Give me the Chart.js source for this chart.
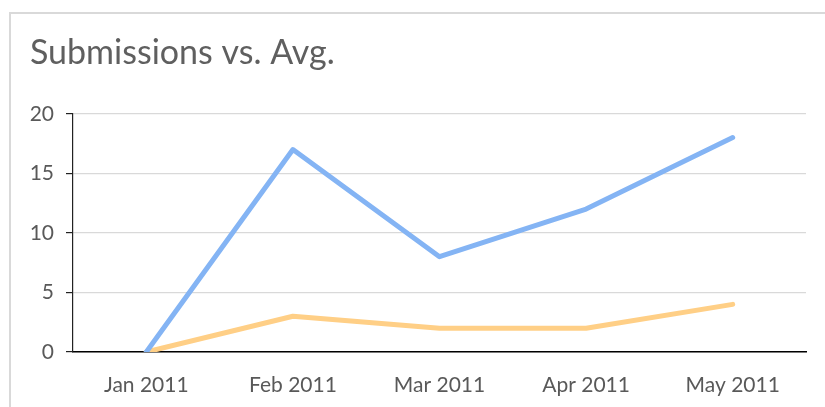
<!DOCTYPE html>
<html>
<head>
<meta charset="utf-8">
<script src="https://cdn.jsdelivr.net/npm/chart.js@4"></script>
<style>
  html, body { margin: 0; padding: 0; background: #fff; }
  body { width: 825px; height: 407px; position: relative; overflow: hidden; }
  #frame { position: absolute; left: 9px; top: 12px; width: 900px; height: 500px; border: 2px solid #d9d9d9; box-sizing: border-box; }
  #wrap { position: absolute; left: 0; top: 0; width: 825px; height: 407px; }
</style>
</head>
<body>
<div id="frame"></div>
<div id="wrap"><canvas id="c" width="825" height="407"></canvas></div>
<script>
const categories = ['Jan 2011', 'Feb 2011', 'Mar 2011', 'Apr 2011', 'May 2011'];
const submissions = [0, 17, 8, 12, 18];
const average = [0, 3, 2, 2, 4];
const yTicks = [0, 5, 10, 15, 20];
const titleText = 'Submissions vs. Avg.';

const FONT = 'Lato, "Open Sans", sans-serif';
const TXT = '#595959';

new Chart(document.getElementById('c'), {
  type: 'line',
  data: {
    labels: categories,
    datasets: [
      { label: 'Submissions', data: submissions, borderColor: '#84b4f4', borderWidth: 5,
        pointRadius: 0, borderCapStyle: 'round', borderJoinStyle: 'round', tension: 0, fill: false },
      { label: 'Avg', data: average, borderColor: '#ffcf86', borderWidth: 5,
        pointRadius: 0, borderCapStyle: 'round', borderJoinStyle: 'round', tension: 0, fill: false }
    ]
  },
  options: {
    responsive: false,
    animation: false,
    devicePixelRatio: 1,
    layout: { padding: { left: 30, right: 19, top: 0, bottom: 0 } },
    plugins: {
      legend: { display: false },
      tooltip: { enabled: false },
      title: {
        display: true, text: titleText, align: 'start', color: '#5f5f5f',
        font: { family: FONT, size: 34, weight: 'normal' },
        padding: { top: 33, bottom: 40 }
      }
    },
    scales: {
      x: {
        offset: true,
        grid: { display: false, drawTicks: false },
        border: { display: true, color: '#000', width: 1.5 },
        ticks: { color: TXT, font: { family: FONT, size: 21 }, padding: 21, maxRotation: 0 },
        afterFit: (s) => { s.height = 55; }
      },
      y: {
        min: 0, max: 20,
        afterBuildTicks: (s) => { s.ticks = yTicks.map(v => ({ value: v })); },
        grid: { color: '#d9d9d9', lineWidth: 1.2, tickLength: 7, tickColor: '#222', drawTicks: true },
        border: { display: true, color: '#222', width: 1.2 },
        ticks: { color: TXT, font: { family: FONT, size: 21 }, padding: 12 },
        afterFit: (s) => { s.width = 43; }
      }
    }
  }
});
</script>
</body>
</html>
